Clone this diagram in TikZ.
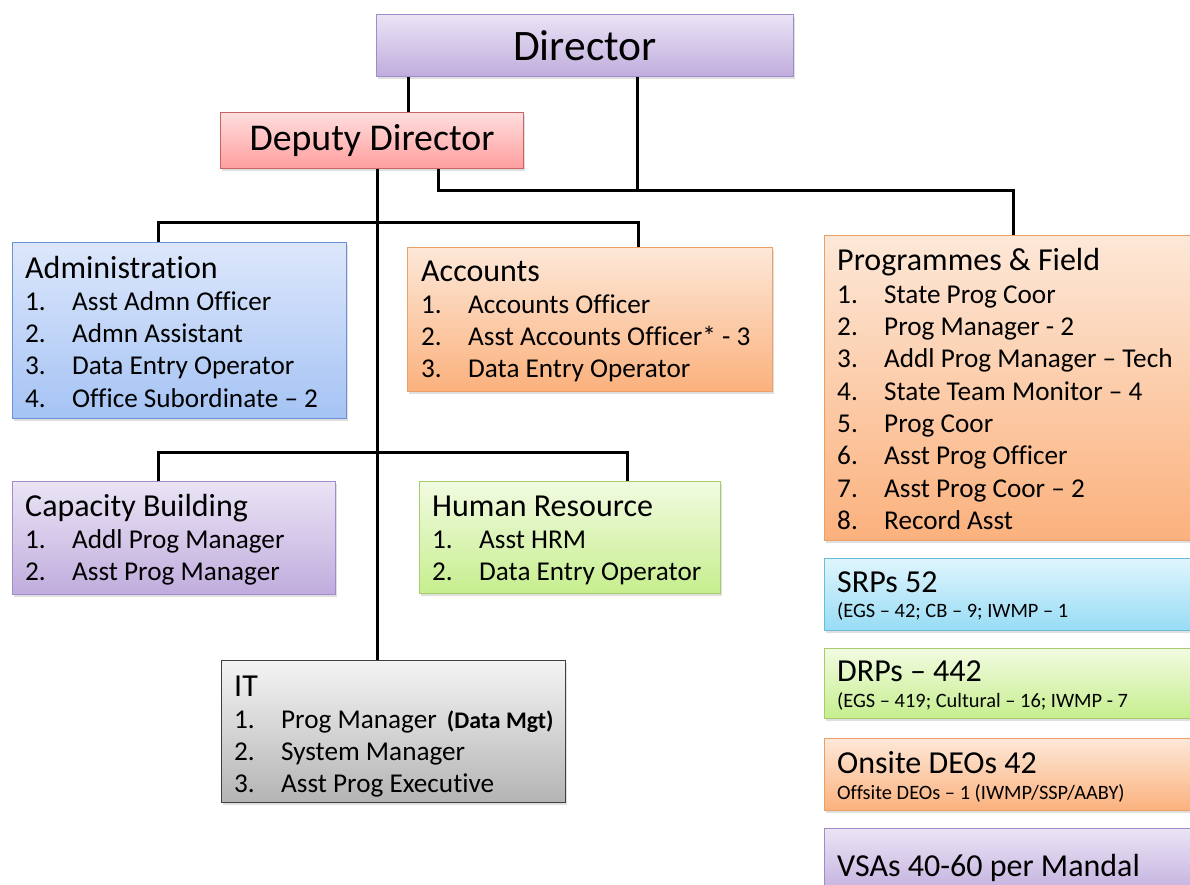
\documentclass[tikz,border=0pt]{standalone}
\usepackage{fontspec}
\setmainfont{Carlito}[Ligatures={TeX,NoCommon}]
\usepackage{tikz}
\usetikzlibrary{positioning, shadows, calc}

\definecolor{purpleTop}{HTML}{EAE4F5}
\definecolor{purpleBot}{HTML}{C0ACDD}
\definecolor{purpleLine}{HTML}{A08CC8}
\definecolor{redTop}{HTML}{FFDEDE}
\definecolor{redBot}{HTML}{FF9E9E}
\definecolor{redLine}{HTML}{C86464}
\definecolor{blueTop}{HTML}{DDE7FB}
\definecolor{blueBot}{HTML}{A5C3F4}
\definecolor{blueLine}{HTML}{6A92D4}
\definecolor{orangeTop}{HTML}{FDE8D8}
\definecolor{orangeBot}{HTML}{FBB17D}
\definecolor{orangeLine}{HTML}{EBA068}
\definecolor{greenTop}{HTML}{F2FBE1}
\definecolor{greenBot}{HTML}{C6EE8E}
\definecolor{greenLine}{HTML}{A6CC6E}
\definecolor{grayTop}{HTML}{F4F4F4}
\definecolor{grayBot}{HTML}{B4B4B4}
\definecolor{grayLine}{HTML}{404040}
\definecolor{cyanTop}{HTML}{DFF5FD}
\definecolor{cyanBot}{HTML}{97DCF5}
\definecolor{cyanLine}{HTML}{6CBCD8}

\tikzset{
    unit/.style={draw, line width=1pt, anchor=north west, inner sep=0pt,
        drop shadow={shadow xshift=1.5pt, shadow yshift=-2pt, opacity=0.25}},
    purpleunit/.style={draw=purpleLine, top color=purpleTop, bottom color=purpleBot},
    redunit/.style={draw=redLine, top color=redTop, bottom color=redBot},
    blueunit/.style={draw=blueLine, top color=blueTop, bottom color=blueBot},
    orangeunit/.style={draw=orangeLine, top color=orangeTop, bottom color=orangeBot},
    greenunit/.style={draw=greenLine, top color=greenTop, bottom color=greenBot},
    grayunit/.style={draw=grayLine, top color=grayTop, bottom color=grayBot},
    cyanunit/.style={draw=cyanLine, top color=cyanTop, bottom color=cyanBot},
    listtext/.style={anchor=base west, inner sep=0pt,
        font=\fontsize{27.2}{32.3}\selectfont},
    conn/.style={line width=3pt},
}
\newcommand{\ttl}[1]{{\fontsize{32}{32.3}\selectfont #1}}
\newcommand{\itemno}[1]{\makebox[47pt][l]{#1}}
\newcommand{\smalltxt}[1]{{\fontsize{20.4}{24}\selectfont #1}}

\begin{document}
\begin{tikzpicture}[x=1pt, y=-1pt]
    \useasboundingbox (0,0) rectangle (1190,884);
    \clip (0,0) rectangle (1190,884);

    % Heads
    \node[unit, purpleunit, minimum width=417pt, minimum height=62pt,
        font=\fontsize{43.5}{48}\selectfont] (director) at (376,14) {Director};
    \node[unit, redunit, minimum width=303pt, minimum height=56pt,
        font=\fontsize{37.8}{44}\selectfont] (deputy) at (220,112) {Deputy Director};

    % Sections
    \node[unit, blueunit, minimum width=334pt, minimum height=176pt] (admin) at (12,242) {};
    \node[listtext] (admin-t) at ([xshift=13pt, yshift=-36pt]admin.north west)
        {\begin{tabular}[t]{@{}l@{}}
         \ttl{Administration}\\ \itemno{1.}Asst Admn Officer\\ \itemno{2.}Admn Assistant\\
         \itemno{3.}Data Entry Operator\\ \itemno{4.}Office Subordinate – 2
         \end{tabular}};

    \node[unit, orangeunit, minimum width=365pt, minimum height=144pt] (accounts) at (407,247) {};
    \node[listtext] (accounts-t) at ([xshift=14pt, yshift=-34pt]accounts.north west)
        {\begin{tabular}[t]{@{}l@{}}
         \ttl{Accounts}\\ \itemno{1.}Accounts Officer\\ \itemno{2.}Asst Accounts Officer* - 3\\
         \itemno{3.}Data Entry Operator
         \end{tabular}};

    \node[unit, orangeunit, minimum width=378pt, minimum height=305pt] (prog) at (824,235) {};
    \node[listtext] (prog-t) at ([xshift=13pt, yshift=-35pt]prog.north west)
        {\begin{tabular}[t]{@{}l@{}}
         \ttl{Programmes \& Field}\\[1pt] \itemno{1.}State Prog Coor\\ \itemno{2.}Prog Manager - 2\\
         \itemno{3.}Addl Prog Manager – Tech\\ \itemno{4.}State Team Monitor – 4\\
         \itemno{5.}Prog Coor\\ \itemno{6.}Asst Prog Officer\\ \itemno{7.}Asst Prog Coor – 2\\
         \itemno{8.}Record Asst
         \end{tabular}};

    \node[unit, purpleunit, minimum width=323pt, minimum height=113pt] (capacity) at (12,481) {};
    \node[listtext] (capacity-t) at ([xshift=13pt, yshift=-35pt]capacity.north west)
        {\begin{tabular}[t]{@{}l@{}}
         \ttl{Capacity Building}\\ \itemno{1.}Addl Prog Manager\\ \itemno{2.}Asst Prog Manager
         \end{tabular}};

    \node[unit, greenunit, minimum width=301pt, minimum height=112pt] (hr) at (419,481) {};
    \node[listtext] (hr-t) at ([xshift=13pt, yshift=-35pt]hr.north west)
        {\begin{tabular}[t]{@{}l@{}}
         \ttl{Human Resource}\\ \itemno{1.}Asst HRM\\ \itemno{2.}Data Entry Operator
         \end{tabular}};

    \node[unit, grayunit, minimum width=344pt, minimum height=142pt] (it) at (221,660) {};
    \node[listtext] (it-t) at ([xshift=13pt, yshift=-36pt]it.north west)
        {\begin{tabular}[t]{@{}l@{}}
         \ttl{IT}\\ \itemno{1.}Prog Manager\hspace{4pt} {\bfseries\fontsize{23.8}{28}\selectfont(Data Mgt)}\\
         \itemno{2.}System Manager\\ \itemno{3.}Asst Prog Executive
         \end{tabular}};

    % Field staff
    \node[unit, cyanunit, minimum width=378pt, minimum height=72pt] (srp) at (824,558) {};
    \node[listtext] (srp-t) at ([xshift=13pt, yshift=-34pt]srp.north west)
        {\begin{tabular}[t]{@{}l@{}}
         \ttl{SRPs 52}\\[-6.5pt] \smalltxt{(EGS – 42; CB – 9; IWMP – 1}
         \end{tabular}};

    \node[unit, greenunit, minimum width=378pt, minimum height=70pt] (drp) at (824,648) {};
    \node[listtext] (drp-t) at ([xshift=13pt, yshift=-33pt]drp.north west)
        {\begin{tabular}[t]{@{}l@{}}
         \ttl{DRPs – 442}\\[-5.5pt] \smalltxt{(EGS – 419; Cultural – 16; IWMP - 7}
         \end{tabular}};

    \node[unit, orangeunit, minimum width=378pt, minimum height=72pt] (deo) at (824,738) {};
    \node[listtext] (deo-t) at ([xshift=13pt, yshift=-35pt]deo.north west)
        {\begin{tabular}[t]{@{}l@{}}
         \ttl{Onsite DEOs 42}\\[-6pt] \smalltxt{Offsite DEOs – 1 (IWMP/SSP/AABY)}
         \end{tabular}};

    \node[unit, purpleunit, minimum width=378pt, minimum height=70pt] (vsa) at (824,828) {};
    \node[listtext] (vsa-t) at ([xshift=13pt, yshift=-48pt]vsa.north west)
        {\ttl{VSAs 40-60 per Mandal}};

    % Connectors
    \coordinate (jn) at ([xshift=52.5pt]director.south |- 0,190);
    \draw[conn] ([xshift=36.5pt]deputy.north) -- ([xshift=36.5pt]deputy.north |- director.south);
    \draw[conn] ([xshift=52.5pt]director.south) -- (jn);
    \draw[conn] ([xshift=66.5pt]deputy.south) |- (jn) -| (prog.north);
    \draw[conn] ([xshift=5.5pt]deputy.south) -- ([xshift=5.5pt]deputy.south |- it.north);
    \draw[conn] ([xshift=-21pt]admin.north) -- ++(0,-20) -| ([xshift=48.5pt]accounts.north);
    \draw[conn] ([xshift=-15.5pt]capacity.north) -- ++(0,-29) -| ([xshift=57.5pt]hr.north);
\end{tikzpicture}
\end{document}
